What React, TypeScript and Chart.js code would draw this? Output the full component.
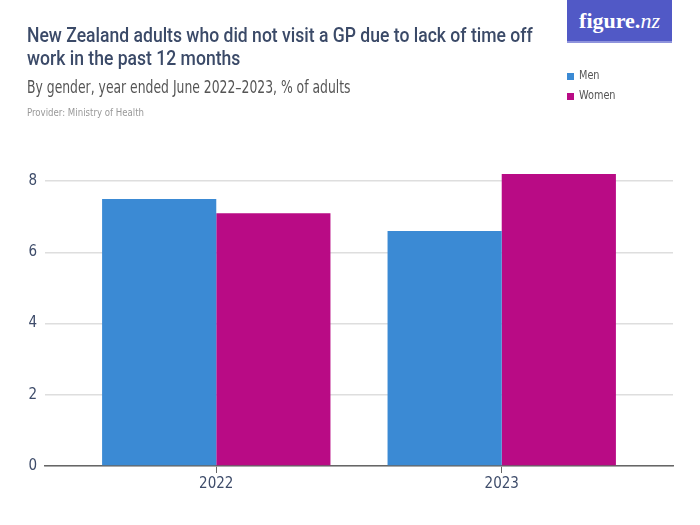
import React, { useEffect, useRef } from "react";
import { Chart, registerables } from "chart.js";

Chart.register(...registerables);

const title1 = "New Zealand adults who did not visit a GP due to lack of time off";
const title2 = "work in the past 12 months";
const subtitle = "By gender, year ended June 2022–2023, % of adults";
const provider = "Provider: Ministry of Health";

const categories = ["2022", "2023"];
const seriesNames = ["Men", "Women"];
const menValues = [7.5, 6.6];
const womenValues = [7.1, 8.2];
const yTickValues = [0, 2, 4, 6, 8];

const colors = ["#3b8ad4", "#b90b85"];
const FONT = '"Liberation Sans Narrow", "DejaVu Sans Condensed", "Roboto", sans-serif';
const TITLE_FONT = 'Roboto, "Noto Sans", sans-serif';

export default function App() {
  const ref = useRef<HTMLCanvasElement | null>(null);

  useEffect(() => {
    document.body.style.margin = "0";
    const ctx = ref.current;
    if (!ctx) return;
    const toPts = (arr: number[]) => arr.map((v, i) => ({ x: i, y: v }));
    const chart = new Chart(ctx, {
      type: "bar",
      data: {
        datasets: [
          { label: seriesNames[0], data: toPts(menValues), backgroundColor: colors[0], borderWidth: 0 },
          { label: seriesNames[1], data: toPts(womenValues), backgroundColor: colors[1], borderWidth: 0 },
        ],
      },
      options: {
        responsive: false,
        animation: false,
        maintainAspectRatio: false,
        layout: { padding: { top: 174, right: 27, left: 0, bottom: 0 } },
        plugins: { legend: { display: false }, tooltip: { enabled: false }, title: { display: false } },
        datasets: { bar: { categoryPercentage: 0.8, barPercentage: 1 } },
        scales: {
          x: {
            type: "linear",
            offset: false,
            min: -0.6,
            max: 1.6,
            afterBuildTicks: (axis: any) => {
              axis.ticks = categories.map((_, i) => ({ value: i }));
            },
            afterFit: (scale: any) => {
              scale.height = 59;
            },
            ticks: {
              autoSkip: false,
              maxRotation: 0,
              padding: 2,
              color: "#3e4c6a",
              font: { family: FONT, size: 15 },
              callback: (v: any) => categories[v as number] ?? "",
            },
            grid: { offset: false, drawOnChartArea: false, tickLength: 7, color: "#666666", lineWidth: 1 },
            border: { display: true, color: "#666666", width: 1.5 },
          },
          y: {
            type: "linear",
            min: 0,
            max: 8.2,
            afterBuildTicks: (axis: any) => {
              axis.ticks = yTickValues.map((v) => ({ value: v }));
            },
            afterFit: (scale: any) => {
              scale.width = 45;
            },
            ticks: {
              padding: 8,
              color: "#3e4c6a",
              font: { family: FONT, size: 15 },
            },
            grid: { drawTicks: false, color: "#dedede", lineWidth: 1.5 },
            border: { display: false },
          },
        },
      },
    } as any);
    return () => chart.destroy();
  }, []);

  const legendItem = (name: string, color: string, top: number) => (
    <div style={{ position: "absolute", left: 567, top, display: "flex", alignItems: "center" }}>
      <div style={{ width: 7, height: 7, background: color, marginRight: 5, marginTop: 3 }} />
      <span style={{ fontFamily: FONT, fontSize: 12, color: "#555", transform: "scaleX(0.9)", transformOrigin: "left center", display: "inline-block" }}>{name}</span>
    </div>
  );

  const squeeze = (s: number): React.CSSProperties => ({ transform: `scaleX(${s})`, transformOrigin: "left top", whiteSpace: "nowrap" });

  return (
    <div style={{ position: "relative", width: 700, height: 525, background: "#fff", overflow: "hidden" }}>
      <canvas ref={ref} width={700} height={525} style={{ position: "absolute", left: 0, top: 0 }} />
      <div style={{ position: "absolute", left: 27, top: 24, fontFamily: TITLE_FONT, fontSize: 20, lineHeight: "23px", color: "#3b4a68", fontWeight: 500, ...squeeze(0.878) }}>
        <div>{title1}</div>
        <div>{title2}</div>
      </div>
      <div style={{ position: "absolute", left: 27, top: 77, fontFamily: FONT, fontSize: 17, color: "#555", ...squeeze(0.81) }}>{subtitle}</div>
      <div style={{ position: "absolute", left: 27, top: 106, fontFamily: FONT, fontSize: 11, color: "#999", ...squeeze(0.87) }}>{provider}</div>
      <div style={{ position: "absolute", left: 567, top: 0, width: 105, height: 41, background: "#5159c6", borderBottom: "2px solid #8e93dc", display: "flex", alignItems: "center", justifyContent: "center" }}>
        <span style={{ fontFamily: '"Liberation Serif", "DejaVu Serif", serif', fontSize: 22, color: "#fff", fontWeight: 700 }}>
          figure.<i style={{ fontWeight: 400 }}>nz</i>
        </span>
      </div>
      {legendItem(seriesNames[0], colors[0], 68)}
      {legendItem(seriesNames[1], colors[1], 88)}
    </div>
  );
}
